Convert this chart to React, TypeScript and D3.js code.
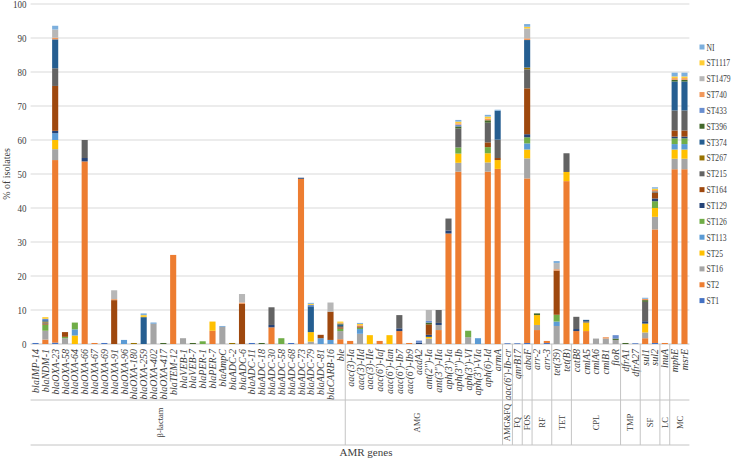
import React from 'react';
import * as d3 from 'd3';

// ---------- data ----------
const categories = [
  'blaIMP-14','blaNDM-1','blaOXA-23','blaOXA-58','blaOXA-64','blaOXA-66','blaOXA-67','blaOXA-69','blaOXA-91','blaOXA-96',
  'blaOXA-180','blaOXA-259','blaOXA-402','blaOXA-417','blaTEM-12','blaVEB-1','blaVEB-7','blaPER-1','blaPER-7','blaAmpC',
  'blaADC-2','blaADC-6','blaADC-11','blaADC-18','blaADC-30','blaADC-58','blaADC-68','blaADC-73','blaADC-79','blaADC-81',
  'blaCARB-16','ble',"aac(3)-Ia","aac(3)-IId","aac(3)-IIe","aac(6')-Iaf","aac(6')-Ian","aac(6')-Ib7","aac(6')-Ib9","aadA2",
  'ant(2")-Ia','ant(3")-IIa',"aph(3')-Ia",'aph(3")-Ib',"aph(3')-VI","aph(3')-VIa","aph(6)-Id","armA","aac(6')-Ib-cr","qnrB17",
  "abaF","arr-2","arr-3","tet(39)","tet(B)","catB8","cmlA5","cmlA6","cmlB1","floR",
  "dfrA1","dfrA27","sul1","sul2","lnuA","mphE","msrE",
];

const groupNames = ['β-lactam','AMG','AMG&FQ','FQ','FOS','RF','TET','CPL','TMP','SF','LC','MC'];
const groupSizes = [32, 16, 1, 1, 1, 2, 2, 5, 2, 2, 1, 2];

const seriesNames = ['ST1','ST2','ST16','ST25','ST113','ST126','ST129','ST164','ST215','ST267','ST374','ST396','ST433','ST740','ST1479','ST1117','NI'];
const seriesColors = ['#4472C4','#ED7D31','#A5A5A5','#FFC000','#5B9BD5','#70AD47','#264478','#9E480E','#636363','#997300','#255E91','#43682B','#698ED0','#F1975A','#B7B7B7','#FFCD33','#7CAFDD'];

const st1 = [
  0.3,0,0.4,0,0,0,0,0.3,0,0,
  0,0,0,0,0,0,0,0,0,0,
  0,0,0.3,0,0,0,0.3,0,0,0,
  0,0,0,0,0,0,0,0,0,0,
  0,0,0,0,0,0,0,0,0.2,0.2,
  0.3,0,0.3,0,0,0,0,0,0,0,
  0,0.2,0,0.3,0,0,0,
];
const st2 = [
  0,1.3,53.7,0,0,53.7,0.3,0,0,0,
  0,0,0,0,26.2,0,0,0,3.9,0,
  0,0,0,0,4.9,0,0,48.6,0,0,
  0,1.4,0.9,0,0,0.9,0,3.8,0.3,0,
  0,4.1,32.5,50.7,0,0,50.7,51.5,0,0,
  48.4,4.1,0.6,0,47.9,3.8,3.8,0,0,0,
  0,0,1.7,33.4,0.3,51.4,51.4,
];
const st16 = [
  0,2.6,3.2,1.7,0,0,0,0,0,0,
  0,0,6.0,0,0,1.7,0,0,0,5.1,
  0,0,0,0,0,0,0,0,0.7,0,
  0,2.4,0,3.0,0,0,0,0,0,0,
  1.6,1.5,0,2.6,2.0,0,2.7,0,0,0,
  5.9,1.5,0,5.3,0,0,0,1.6,1.6,1.2,
  0,0,1.7,3.7,0,3.1,3.1,
];
const st25 = [
  0,0,2.7,0,2.5,0,0,0,0,0,
  0,0,0,0,0,0,0,0,2.7,0,
  0,0,0,0,0,0,0,0,2.8,0,
  0,0,0,0,2.6,0,2.6,0,0,0,
  0.5,0,0,2.7,0,0,2.7,2.6,0,0,
  2.6,2.9,0,0,2.7,0,2.5,0,0,0,
  0,0,2.6,2.6,0,2.7,2.7,
];
const st113 = [
  0,0,2.0,0,1.8,0,0,0,0,1.2,
  0,0,0.3,0,0,0,0,0,0,0.2,
  0,0,0,0,0,0,0,0,0,1.7,
  1.2,0,0,1.4,0,0,0,0,0,0,
  0,0,0,0,0,1.7,0,0,0,0,
  1.8,0,0,1.3,0,0,0,0,0,0,
  0,0,0,0,0,1.6,1.6,
];
const st126 = [
  0,1.8,0,0.4,2.0,0,0,0,0,0,
  0,0,0,0,0,0,0,0.8,0,0,
  0,0,0,0,0,1.7,0,0,0,0,
  0,0.7,0,0.4,0,0,0,0,0,0,
  0,0,0,1.8,1.9,0,1.8,0,0,0,
  1.8,0,0,2.0,0,0,0,0,0,0,
  0,0,0,2.0,0,1.7,1.7,
];
const st129 = [
  0,0,0.7,0,0,1.0,0,0,0,0,
  0,0,0,0,0,0,0,0,0,0,
  0,0,0,0,0.7,0,0,0.3,0,0,
  0,0,0,0,0,0,0,0.8,0,0.4,
  0.6,0.6,0.9,0,0,0,0,0,0,0,
  0.9,0,0,0,0,0.6,0,0,0,0,
  0,0,0.7,0.8,0,0.5,0.5,
];
const st164 = [
  0,0.3,13.2,1.4,0,0,0,0,12.9,0,
  0,0,0,0,0,0,0,0,0,0,
  0,11.8,0,0,0,0,0,0,0,1.0,
  8.3,0.4,0,0.4,0,0,0,0,0,0,
  3.1,0,0,0,0,0,1.4,0.6,0,0,
  13.5,0,0,13.0,0,0,0,0,0,0,
  0,0,0,1.7,0,1.8,1.8,
];
const st215 = [
  0,0.3,5.2,0,0,5.3,0,0,0,0,
  0,0,0,0,0,0,0,0,0,0,
  0,0,0,0,5.2,0,0,0,0,0,
  0,0.4,0,0,0,0,0,3.9,0,0,
  0,3.8,3.5,5.6,0,0,5.8,5.4,0,0,
  5.6,0,0,0,5.5,3.6,0.4,0,0,0,
  0,0,5.7,0.4,0,5.9,5.9,
];
const st267 = [
  0,0.3,0,0,0,0,0,0,0,0,
  0.3,0,0,0,0,0,0,0,0,0,
  0.3,0,0,0,0,0,0,0,0,0,
  0,0,0,0,0,0,0,0,0,0,
  0,0,0,0,0,0,0,0,0,0,
  0.5,0,0,0,0,0,0,0,0,0,
  0,0,0,0,0,0,0,
];
const st374 = [
  0,0.4,8.5,0,0,0,0,0,0,0,
  0,7.9,0,0,0,0,0,0,0,0,
  0,0,0,0,0,0,0,0,7.6,0,
  0,0.4,0,0,0,0,0,0,0,0,
  0,0,0,0,0,0,0,8.5,0,0,
  8.1,0,0,0,0,0,0.4,0,0,0,
  0,0,0,0,0,8.5,8.5,
];
const st396 = [
  0,0,0,0,0,0,0,0,0,0,
  0,0,0,0.3,0,0,0.3,0,0,0,
  0,0,0,0.3,0,0,0,0,0,0,
  0,0.3,0,0,0,0,0,0,0,0,
  0.5,0,0,0.6,0,0,0.7,0,0,0,
  0,0.5,0,0,0,0,0,0,0,0.4,
  0.3,0,0.5,0,0,0.5,0.5,
];
const st433 = [
  0,0.4,0,0,0,0,0,0,0,0,
  0,0,0,0,0,0,0,0,0,0,
  0,0,0,0,0,0,0,0,0.4,0,
  0,0,0,0,0,0,0,0,0,0.6,
  0.5,0,0,0.5,0,0,0,0,0,0,
  0,0,0,0,0,0,0,0,0,1.0,
  0,0,0,0,0,0,0,
];
const st740 = [
  0,0,0.5,0,0,0,0,0,0.3,0,
  0,0,0,0,0,0,0,0,0,0,
  0,0.4,0,0,0,0,0,0,0,0,
  0,0.2,0,0.3,0,0,0,0,0,0,
  0,0,0,0.4,0,0,0.5,0,0,0,
  0.5,0,0,0.4,0,0,0,0,0.4,0,
  0,0,0.4,0.4,0,0.5,0.5,
];
const st1479 = [
  0,0,2.4,0,0,0,0,0,2.6,0,
  0,0,0,0,0,0,0,0,0,0,
  0,2.5,0,0,0,0,0,0,0,0,
  2.7,0,0,0,0,0,0,0,0,0,
  3.2,0,0,0,0,0,0,0,0,0,
  2.9,0,0,1.8,0,0,0,0,0,0,
  0,0,0,0,0,0,0,
];
const st1117 = [
  0,0.5,0,0,0,0,0,0,0,0,
  0,0.6,0,0,0,0,0,0,0,0,
  0,0,0,0,0,0,0,0,0.3,0,
  0,0.4,0,0.4,0,0,0,0,0,0,
  0,0,0,0.5,0,0,0.6,0,0,0,
  0.5,0,0,0,0,0,0,0,0,0,
  0,0,0,0.4,0,0.5,0.5,
];
const ni = [
  0,0,1.1,0,0,0,0,0,0,0,
  0,0.5,0,0,0,0,0,0,0,0,
  0,0,0,0,0,0,0,0,0.3,0,
  0,0,0,0.3,0,0,0,0,0,0,
  0,0,0,0.5,0,0,0.5,0.3,0,0,
  0.8,0,0,0.6,0,0,0,0,0,0,
  0,0,0.3,0.4,0,1.1,1.1,
];

const seriesValues = [st1, st2, st16, st25, st113, st126, st129, st164, st215, st267, st374, st396, st433, st740, st1479, st1117, ni];
const yTicks = [0, 10, 20, 30, 40, 50, 60, 70, 80, 90, 100];

// ---------- chart ----------
const FONT = '"Liberation Serif", "Times New Roman", serif';
const TXT = '#404040';
const AXIS = '#c4c4c4';
const GRID = '#d9d9d9';

export default function App() {
  const W = 734, H = 460;
  const left = 30.6, right = 689.4, top = 4, bottom = 344;
  const lvl1 = 400, lvl2 = 445;

  const x = d3.scaleBand<string>().domain(categories).range([left, right]).paddingInner(0.38).paddingOuter(0.19);
  const y = d3.scaleLinear().domain([0, 100]).range([bottom, top]);

  const rows = categories.map((c, i) => {
    const r: any = { cat: c };
    seriesNames.forEach((s, j) => { r[s] = seriesValues[j][i]; });
    return r;
  });
  const stacked = d3.stack<any>().keys(seriesNames)(rows);

  const step = x.step();
  const bandStart = (i: number) => left + x.paddingOuter() * step + i * step - (x.paddingInner() * step) / 2;

  const groups: { name: string; start: number; end: number }[] = [];
  let acc = 0;
  groupNames.forEach((g, k) => {
    const s = acc; acc += groupSizes[k];
    groups.push({ name: g, start: s, end: acc });
  });
  const labelShift: Record<string, number> = { 'β-lactam': -28, 'AMG': -7 };

  const legendItems = seriesNames.map((s, j) => ({ name: s, color: seriesColors[j] })).reverse();

  return (
    <svg width={W} height={H} style={{ position: 'absolute', left: 0, top: 0, background: '#fff' }} fontFamily={FONT}>
      <rect x={0} y={0} width={W} height={H} fill="#fff" />
      {yTicks.map(t => (
        <line key={'g' + t} x1={left} x2={right} y1={y(t)} y2={y(t)} stroke={t === 0 ? AXIS : GRID} strokeWidth={1} />
      ))}
      {yTicks.map(t => (
        <text key={'yt' + t} transform={`translate(26.5,${y(t) + 4.4}) scale(0.95,1)`} textAnchor="end" fontSize={9.5} fill={TXT}>{t}</text>
      ))}
      <text transform={`translate(6.5,${(top + bottom) / 2}) rotate(-90)`} textAnchor="middle" dy="0.35em" fontSize={10} fill={TXT}>% of isolates</text>

      {stacked.map((layer, j) => (
        <g key={layer.key} fill={seriesColors[j]}>
          {layer.map((d, i) => {
            const h = y(d[0]) - y(d[1]);
            if (h <= 0) return null;
            return <rect key={i} x={x(categories[i])} y={y(d[1])} width={x.bandwidth()} height={h} />;
          })}
        </g>
      ))}

      {categories.map(c => {
        const cx = (x(c) as number) + x.bandwidth() / 2;
        return (
          <text key={'c' + c} transform={`translate(${cx},349) rotate(-90)`} dy="0.35em" textAnchor="end"
            fontSize={10} fontStyle="italic" fill={TXT}>{c}</text>
        );
      })}

      <line x1={left} x2={right} y1={lvl1} y2={lvl1} stroke={AXIS} />
      <line x1={left} x2={right} y1={lvl2} y2={lvl2} stroke={AXIS} />
      {groups.slice(0, -1).map(g => (
        <line key={'sep' + g.name} x1={bandStart(g.end)} x2={bandStart(g.end)} y1={bottom} y2={lvl2} stroke={AXIS} />
      ))}
      {groups.map(g => {
        const cx = (bandStart(g.start) + bandStart(g.end)) / 2 + (labelShift[g.name] || 0);
        return (
          <text key={'gl' + g.name} transform={`translate(${cx},${(lvl1 + lvl2) / 2}) rotate(-90)`} dy="0.35em"
            textAnchor="middle" fontSize={8.5} fill={TXT}>{g.name}</text>
        );
      })}
      <text x={366} y={456} textAnchor="middle" fontSize={11} fill={TXT}>AMR genes</text>

      {legendItems.map((it, k) => {
        const ly = 47 + k * 15.85;
        return (
          <g key={'lg' + it.name}>
            <rect x={699.5} y={ly - 2.5} width={5} height={5} fill={it.color} />
            <text transform={`translate(706.5,${ly}) scale(0.76,1)`} dy="0.35em" fontSize={10} fill={TXT}>{it.name}</text>
          </g>
        );
      })}
    </svg>
  );
}
